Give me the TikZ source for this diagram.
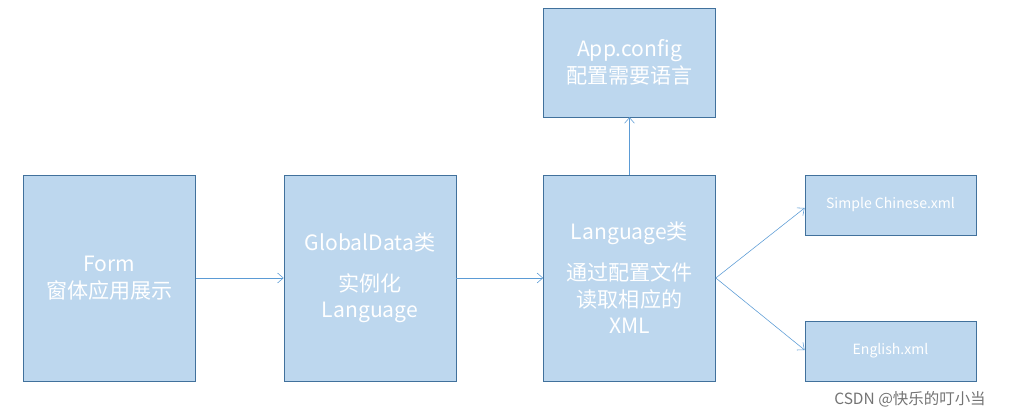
\documentclass[tikz,border=0pt]{standalone}
\usepackage{fontspec}
\setmainfont{Noto Sans CJK SC}
\usetikzlibrary{arrows.meta}
\definecolor{boxfill}{HTML}{BDD7EE}
\definecolor{boxline}{HTML}{41719C}
\definecolor{arrowc}{HTML}{5B9BD5}
\begin{document}
\begin{tikzpicture}[x=0.025cm, y=-0.025cm,
    block/.style={draw=boxline, fill=boxfill, text=white, align=center, inner sep=0pt, font=\fontsize{15}{19}\selectfont},
    arrow/.style={-{Straight Barb[length=4pt,width=7pt]}, draw=arrowc, thin}]
    \useasboundingbox (0,0) rectangle (1020,418);

    % Main row
    \node[block, minimum width=4.3cm, minimum height=5.15cm] (form) at (109.5,278) {Form\\窗体应用展示};
    \node[block, minimum width=4.3cm, minimum height=5.15cm] (global) at (370,278) {GlobalData类\\[10pt]实例化\\Language};
    \node[block, minimum width=4.3cm, minimum height=5.15cm] (lang) at (629.5,278) {Language类\\[10pt]通过配置文件\\读取相应的\\XML};

    % Config
    \node[block, minimum width=4.3cm, minimum height=2.72cm] (config) at (629.5,62.5) {App.config\\配置需要语言};

    % Language files
    \node[block, minimum width=4.28cm, minimum height=1.5cm, font=\fontsize{10}{12}\selectfont] (chinese) at (890.5,205) {Simple Chinese.xml};
    \node[block, minimum width=4.28cm, minimum height=1.5cm, font=\fontsize{10}{12}\selectfont] (english) at (890.5,351) {English.xml};

    % Connections
    \draw[arrow] (form) -- (global);
    \draw[arrow] (global) -- (lang);
    \draw[arrow] (lang) -- (config);
    \draw[arrow] (lang.east) -- (chinese.west |- 0,208);
    \draw[arrow] (lang.east) -- (english.west |- 0,350);

    % Watermark
    \node[text=black!55, font=\fontsize{11}{13}\selectfont] (mark) at (910,399) {CSDN @快乐的叮小当};
\end{tikzpicture}
\end{document}
